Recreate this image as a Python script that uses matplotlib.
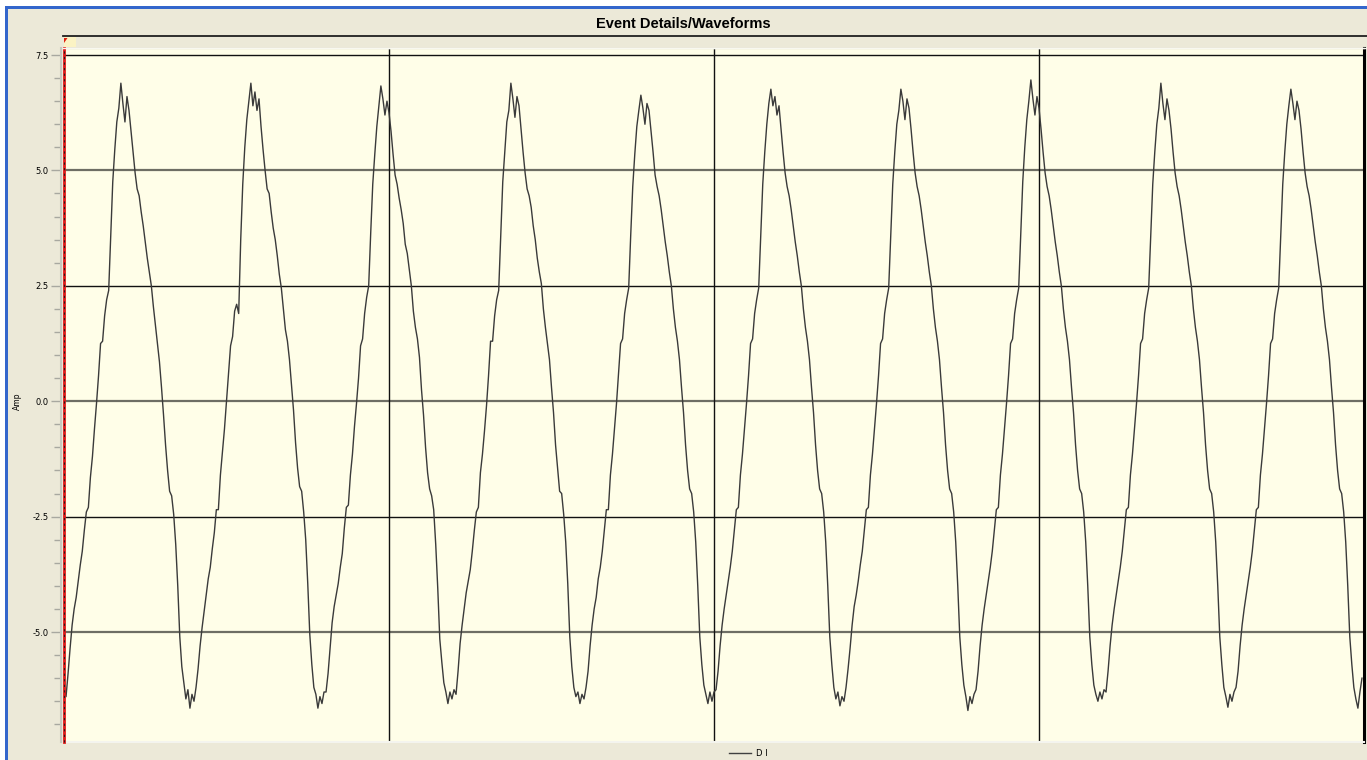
import numpy as np
import matplotlib
matplotlib.use("Agg")
import matplotlib.pyplot as plt
from matplotlib.lines import Line2D
from matplotlib.patches import Rectangle, Polygon
from matplotlib.ticker import MultipleLocator, FixedLocator
from matplotlib import font_manager

# ---------------- data (64 samples per 60 Hz cycle, one row per cycle) ----------------
title = "Event Details/Waveforms"
y_label = "Amp"
series_name = "D I"
y_ticks = [-5.0, -2.5, 0.0, 2.5, 5.0, 7.5]
y_tick_labels = ["-5.0", "-2.5", "0.0", "2.5", "5.0", "7.5"]
samples_per_cycle = 64
cycle_ms = 1000.0 / 60.0
x_grid_ms = [41.667, 83.333, 125.0]

cycle_0 = [-6.2, -6.4, -5.9, -5.35, -4.85, -4.5, -4.25, -3.9, -3.55, -3.25,
           -2.8, -2.4, -2.3, -1.65, -1.2, -0.6, -0.05, 0.55, 1.25, 1.3,
           1.85, 2.2, 2.4, 3.6, 4.75, 5.45, 6.05, 6.35, 6.89, 6.45,
           6.05, 6.6, 6.3, 5.85, 5.4, 4.95, 4.6, 4.45, 4.1, 3.8,
           3.45, 3.1, 2.8, 2.5, 2.05, 1.65, 1.25, 0.85, 0.3, -0.3,
           -0.95, -1.5, -1.95, -2.05, -2.45, -3.1, -4.0, -5.1, -5.75, -6.1,
           -6.45, -6.25, -6.65, -6.35]
cycle_1 = [-6.5, -6.2, -5.8, -5.3, -4.9, -4.55, -4.2, -3.85, -3.6, -3.2,
           -2.85, -2.35, -2.35, -1.6, -1.1, -0.6, 0.0, 0.6, 1.2, 1.4,
           1.95, 2.1, 1.9, 3.5, 4.7, 5.5, 6.1, 6.5, 6.89, 6.4,
           6.7, 6.3, 6.55, 5.95, 5.45, 5.0, 4.6, 4.5, 4.1, 3.75,
           3.5, 3.15, 2.75, 2.45, 2.0, 1.55, 1.3, 0.9, 0.35, -0.2,
           -0.9, -1.45, -1.85, -1.95, -2.4, -3.0, -3.95, -5.05, -5.7, -6.2,
           -6.35, -6.65, -6.4, -6.55]
cycle_2 = [-6.3, -6.3, -5.9, -5.35, -4.8, -4.45, -4.2, -3.95, -3.6, -3.3,
           -2.75, -2.3, -2.25, -1.6, -1.15, -0.55, -0.05, 0.5, 1.2, 1.35,
           1.9, 2.25, 2.5, 3.65, 4.7, 5.35, 5.95, 6.4, 6.83, 6.55,
           6.2, 6.5, 6.25, 5.85, 5.35, 4.9, 4.7, 4.4, 4.15, 3.85,
           3.4, 3.2, 2.85, 2.5, 1.95, 1.6, 1.35, 0.95, 0.25, -0.3,
           -1.0, -1.55, -1.9, -2.05, -2.35, -3.1, -4.05, -5.15, -5.65, -6.1,
           -6.3, -6.55, -6.3, -6.45]
cycle_3 = [-6.25, -6.35, -5.85, -5.25, -4.85, -4.5, -4.15, -3.9, -3.65, -3.25,
           -2.8, -2.4, -2.3, -1.55, -1.15, -0.65, -0.1, 0.55, 1.3, 1.3,
           1.85, 2.2, 2.4, 3.55, 4.75, 5.4, 6.05, 6.3, 6.89, 6.55,
           6.15, 6.6, 6.4, 5.9, 5.4, 4.95, 4.6, 4.45, 4.2, 3.8,
           3.5, 3.1, 2.8, 2.55, 2.0, 1.6, 1.25, 0.9, 0.3, -0.25,
           -0.95, -1.45, -1.95, -2.0, -2.45, -3.05, -3.95, -5.1, -5.75, -6.2,
           -6.4, -6.3, -6.55, -6.35]
cycle_4 = [-6.45, -6.2, -5.85, -5.3, -4.85, -4.5, -4.25, -3.85, -3.6, -3.25,
           -2.8, -2.35, -2.35, -1.6, -1.15, -0.6, -0.05, 0.6, 1.25, 1.35,
           1.9, 2.2, 2.45, 3.6, 4.65, 5.35, 5.95, 6.3, 6.63, 6.35,
           6.0, 6.45, 6.3, 5.85, 5.4, 4.9, 4.65, 4.45, 4.15, 3.8,
           3.45, 3.15, 2.8, 2.5, 2.0, 1.6, 1.3, 0.9, 0.3, -0.25,
           -0.95, -1.5, -1.9, -2.0, -2.4, -3.05, -4.0, -5.1, -5.7, -6.15,
           -6.35, -6.55, -6.3, -6.5]
cycle_5 = [-6.3, -6.25, -5.85, -5.3, -4.85, -4.5, -4.2, -3.9, -3.6, -3.25,
           -2.8, -2.35, -2.3, -1.6, -1.15, -0.6, -0.05, 0.55, 1.25, 1.35,
           1.9, 2.2, 2.45, 3.6, 4.7, 5.4, 6.0, 6.45, 6.76, 6.4,
           6.6, 6.2, 6.4, 5.9, 5.4, 4.95, 4.65, 4.45, 4.15, 3.8,
           3.45, 3.15, 2.8, 2.5, 2.0, 1.6, 1.3, 0.9, 0.3, -0.25,
           -0.95, -1.5, -1.9, -2.0, -2.4, -3.05, -4.0, -5.1, -5.7, -6.2,
           -6.45, -6.3, -6.6, -6.4]
cycle_6 = [-6.5, -6.2, -5.8, -5.35, -4.85, -4.45, -4.2, -3.9, -3.55, -3.25,
           -2.8, -2.35, -2.3, -1.6, -1.15, -0.6, -0.05, 0.55, 1.25, 1.35,
           1.9, 2.2, 2.45, 3.6, 4.7, 5.4, 6.0, 6.3, 6.76, 6.5,
           6.1, 6.55, 6.35, 5.9, 5.4, 4.95, 4.65, 4.45, 4.15, 3.8,
           3.45, 3.15, 2.8, 2.5, 2.0, 1.6, 1.3, 0.9, 0.3, -0.25,
           -0.95, -1.5, -1.9, -2.0, -2.4, -3.05, -4.0, -5.1, -5.7, -6.15,
           -6.4, -6.7, -6.4, -6.55]
cycle_7 = [-6.35, -6.25, -5.85, -5.3, -4.85, -4.5, -4.2, -3.9, -3.6, -3.25,
           -2.8, -2.35, -2.3, -1.6, -1.15, -0.6, -0.05, 0.55, 1.25, 1.35,
           1.9, 2.2, 2.45, 3.6, 4.75, 5.5, 6.1, 6.5, 6.96, 6.55,
           6.2, 6.6, 6.35, 5.9, 5.4, 4.95, 4.65, 4.45, 4.15, 3.8,
           3.45, 3.15, 2.8, 2.5, 2.0, 1.6, 1.3, 0.9, 0.3, -0.25,
           -0.95, -1.5, -1.9, -2.0, -2.4, -3.05, -4.0, -5.1, -5.7, -6.15,
           -6.35, -6.5, -6.3, -6.45]
cycle_8 = [-6.25, -6.3, -5.85, -5.3, -4.85, -4.5, -4.2, -3.9, -3.6, -3.25,
           -2.8, -2.35, -2.3, -1.6, -1.15, -0.6, -0.05, 0.55, 1.25, 1.35,
           1.9, 2.2, 2.45, 3.6, 4.7, 5.4, 6.0, 6.35, 6.89, 6.45,
           6.1, 6.55, 6.3, 5.9, 5.4, 4.95, 4.65, 4.45, 4.15, 3.8,
           3.45, 3.15, 2.8, 2.5, 2.0, 1.6, 1.3, 0.9, 0.3, -0.25,
           -0.95, -1.5, -1.9, -2.0, -2.4, -3.05, -4.0, -5.1, -5.7, -6.2,
           -6.4, -6.63, -6.35, -6.5]
cycle_9 = [-6.3, -6.2, -5.85, -5.3, -4.85, -4.5, -4.2, -3.9, -3.6, -3.25,
           -2.8, -2.35, -2.3, -1.6, -1.15, -0.6, -0.05, 0.55, 1.25, 1.35,
           1.9, 2.2, 2.45, 3.6, 4.7, 5.4, 6.0, 6.4, 6.76, 6.45,
           6.1, 6.5, 6.3, 5.9, 5.4, 4.95, 4.65, 4.45, 4.15, 3.8,
           3.45, 3.15, 2.8, 2.5, 2.0, 1.6, 1.3, 0.9, 0.3, -0.25,
           -0.95, -1.5, -1.9, -2.0, -2.4, -3.05, -4.0, -5.1, -5.7, -6.2,
           -6.45, -6.65, -6.3, -6.0]

cycles = [cycle_0, cycle_1, cycle_2, cycle_3, cycle_4,
          cycle_5, cycle_6, cycle_7, cycle_8, cycle_9]
amp = np.concatenate([np.asarray(c, dtype=float) for c in cycles])
t_ms = np.arange(amp.size) * (cycle_ms / samples_per_cycle)

# ---------------- fonts ----------------
installed = {f.name for f in font_manager.fontManager.ttflist}
if "Liberation Sans Narrow" in installed:
    title_family = ["Liberation Sans Narrow", "DejaVu Sans"]
    title_size = 12.5
    title_stretch = "normal"
elif "DejaVu Sans Condensed" in installed:
    title_family = ["DejaVu Sans Condensed", "DejaVu Sans"]
    title_size = 10.5
    title_stretch = "condensed"
else:
    title_family = ["Liberation Sans", "DejaVu Sans"]
    title_size = 10.5
    title_stretch = "normal"

# ---------------- figure ----------------
W, H = 1367, 760
fig = plt.figure(figsize=(W / 100, H / 100), dpi=100, facecolor="#ECE9D8")

def fx(px):
    return px / W

def fy(py):
    return 1 - py / H

# white margins + blue window frame
fig.add_artist(Rectangle((0, fy(6)), 1, 6 / H, transform=fig.transFigure,
                         facecolor="white", edgecolor="none", zorder=0))
fig.add_artist(Rectangle((0, 0), fx(5), 1, transform=fig.transFigure,
                         facecolor="white", edgecolor="none", zorder=0))
fig.add_artist(Rectangle((fx(5), fy(8.5)), 1, 2.5 / H, transform=fig.transFigure,
                         facecolor="#3366CC", edgecolor="none", zorder=1))
fig.add_artist(Rectangle((fx(5), 0), 2.5 / W, fy(6), transform=fig.transFigure,
                         facecolor="#3366CC", edgecolor="none", zorder=1))

# title
fig.text(fx(683), fy(24), title, ha="center", va="center", fontsize=title_size,
         fontweight="bold", family=title_family, stretch=title_stretch,
         color="black")

# header strip above the plot
fig.add_artist(Line2D([fx(63), 1], [fy(36), fy(36)], transform=fig.transFigure,
                      color="#202020", lw=1.3))
fig.add_artist(Line2D([fx(63), 1], [fy(47.5), fy(47.5)], transform=fig.transFigure,
                      color="#F8F8F0", lw=1.0))
fig.add_artist(Rectangle((fx(64), fy(47)), 12 / W, 10 / H, transform=fig.transFigure,
                         facecolor="#FFF6C0", edgecolor="none", alpha=0.8))
fig.add_artist(Polygon([[fx(64), fy(38)], [fx(67.5), fy(38)], [fx(64), fy(43)]],
                       closed=True, transform=fig.transFigure,
                       facecolor="#E02010", edgecolor="none"))

# axes
ax = fig.add_axes([fx(64), fy(742), 1300 / W, (742 - 48) / H])
ax.set_facecolor("#FFFEE8")
ax.set_xlim(0, 10 * cycle_ms)
ax.set_ylim(-7.383, 7.652)

for v in y_ticks:
    if v in (7.5, 2.5, -2.5):
        ax.axhline(v, color="#111111", lw=1.0, zorder=1)
    else:
        ax.axhline(v, color="#6E6E64", lw=1.6, zorder=1)
for x in x_grid_ms:
    ax.axvline(x, color="#111111", lw=1.0, zorder=1)

ax.plot(t_ms, amp, color="#3A3A3A", lw=1.0, zorder=3)

# trigger marker at t = 0
ax.axvline(0, color="#E01818", lw=2.0, zorder=4, clip_on=False)
ax.axvline(0, color="#202020", lw=0.8, ls=(0, (2, 3)), zorder=5, clip_on=False)

ax.yaxis.set_major_locator(FixedLocator(y_ticks))
ax.set_yticklabels(y_tick_labels)
ax.yaxis.set_minor_locator(MultipleLocator(0.5))
ax.set_xticks([])
ax.tick_params(axis="y", which="major", length=7.2, width=1.0, color="#A8A8A0",
               labelsize=6, pad=1.4, labelcolor="black")
ax.tick_params(axis="y", which="minor", length=5.0, width=1.0, color="#A8A8A0")

ax.spines["left"].set_position(("outward", 2.5))
ax.spines["left"].set_color("#C8C8BE")
ax.spines["left"].set_linewidth(1.5)
ax.spines["right"].set_color("black")
ax.spines["right"].set_linewidth(2.2)
ax.spines["top"].set_color("#D8D8CC")
ax.spines["top"].set_linewidth(1.0)
ax.spines["bottom"].set_color("#F4F4EE")
ax.spines["bottom"].set_linewidth(1.5)

# y label
fig.text(fx(17), fy(401), y_label, rotation=90, ha="center", va="center",
         fontsize=5.5, color="black")

# legend at bottom
fig.add_artist(Line2D([fx(729), fx(751)], [fy(753), fy(753)],
                      transform=fig.transFigure, color="#404040", lw=1.0))
fig.text(fx(756), fy(753), series_name, ha="left", va="center", fontsize=6,
         color="black")

fig.savefig("out.png", dpi=100, facecolor=fig.get_facecolor())
